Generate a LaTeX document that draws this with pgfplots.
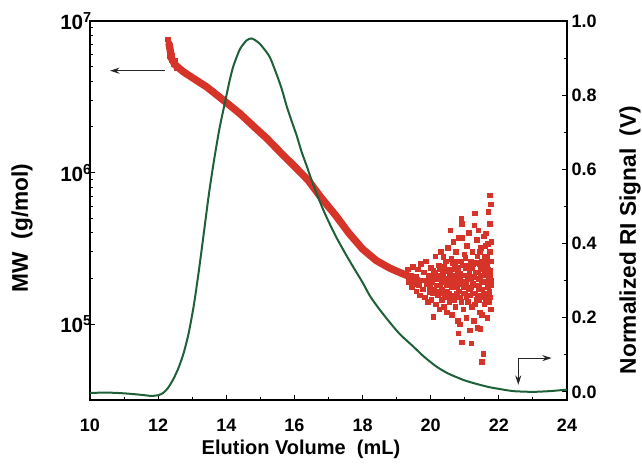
\documentclass[border=0pt]{standalone}
\usepackage{pgfplots}
\pgfplotsset{compat=1.18}
\usepackage{fontspec}
\setmainfont{Liberation Sans}
\usetikzlibrary{arrows.meta}
\definecolor{mwred}{RGB}{214,52,40}
\definecolor{rigreen}{RGB}{30,96,56}

\begin{document}
\begin{tikzpicture}
\pgfplotsset{
  every axis/.append style={
    scale only axis, width=357.75pt, height=284.25pt,
    xmin=10, xmax=24,
    tick align=inside,
    major tick length=4pt, minor tick length=2.5pt,
    axis line style={line width=0.9pt},
    every tick/.style={black, line width=0.8pt},
    tick label style={font=\fontsize{13.5}{13.5}\selectfont\bfseries},
    /pgf/number format/assume math mode=true,
  },
}
% left axis: molecular weight (log)
\begin{axis}[
    name=ax,
    ymode=log, ymin=3.16e4, ymax=1e7,
    ytick={1e5,1e6,1e7},
    yticklabels={10\textsuperscript{5},10\textsuperscript{6},10\textsuperscript{7}},
    yticklabel style={font=\fontsize{15.5}{15.5}\selectfont\bfseries, xshift=5pt},
    xticklabel style={yshift=-10.5pt},
    ytick pos=left, xtick pos=left,
    xtick={10,12,...,24}, minor x tick num=1,
]
% main MW band
\addplot[mwred, line width=5.5pt, line cap=round, line join=round] coordinates {
  (12.32,7.08e6) (12.40,5.62e6) (12.50,5.13e6) (12.74,4.62e6) (13.03,4.19e6)
  (13.42,3.68e6) (13.91,3.01e6) (14.40,2.45e6) (14.80,2.02e6) (15.19,1.68e6)
  (15.60,1.35e6) (16.00,1.10e6) (16.40,8.91e5) (16.80,6.76e5) (17.20,5.25e5)
  (17.60,3.98e5) (18.00,3.13e5) (18.40,2.63e5) (18.80,2.34e5) (19.20,2.14e5)
  (19.60,1.97e5)
};
% scattered MW points
\addplot[only marks, mark=square*, mark size=1.7pt, mwred] coordinates {
  (12.28,7.6e6) (12.30,7.0e6) (12.32,6.4e6) (12.34,5.9e6) (12.36,6.8e6)
  (12.38,5.5e6) (12.42,5.9e6) (12.45,5.2e6) (12.50,5.5e6) (12.55,4.9e6)
  (19.32,2.3e5) (19.36,1.9e5) (19.41,2.1e5) (19.45,1.75e5) (19.48,2.4e5) (19.52,1.85e5)
  (19.56,2.05e5) (19.58,1.65e5) (19.62,2.3e5) (19.65,1.8e5) (19.68,1.55e5) (19.71,2.5e5) (19.74,1.95e5)
  (19.77,1.7e5) (19.80,2.2e5) (19.83,1.5e5) (19.86,2.6e5) (19.88,1.85e5) (19.91,1.4e5) (19.94,2.1e5) (19.96,1.62e5)
  (20.00,2.35e5) (20.02,1.45e5) (20.05,1.9e5) (20.08,1.12e5) (20.08,2.27e5) (20.10,1.7e5) (20.13,2.8e5) (20.15,1.35e5) (20.18,2.0e5) (20.20,1.55e5)
  (20.23,2.45e5) (20.25,1.25e5) (20.28,1.8e5) (20.30,3.0e5) (20.33,1.45e5) (20.35,2.15e5) (20.37,2.78e5) (20.39,1.3e5)
  (20.42,1.95e5) (20.44,2.6e5) (20.47,1.2e5) (20.48,1.65e5) (20.50,3.2e5) (20.52,2.3e5) (20.55,1.4e5) (20.57,4.17e5) (20.58,1.85e5) (20.60,2.7e5)
  (20.62,1.15e5) (20.64,2.1e5) (20.66,3.5e5) (20.68,1.55e5) (20.70,2.45e5) (20.72,1.3e5) (20.74,3.0e5) (20.76,1.75e5) (20.78,2.2e5) (20.79,1.05e5)
  (20.81,8.7e4) (20.83,3.7e5) (20.85,1.5e5) (20.86,1.0e5) (20.88,2.6e5) (20.90,5.0e5) (20.91,4.6e5) (20.91,7.6e4) (20.92,3.7e5) (20.94,1.9e5) (20.96,1.25e5) (20.98,2.9e5) (21.00,1.6e5)
  (21.02,2.35e5) (21.04,1.1e5) (21.06,3.3e5) (21.08,1.4e5) (21.10,2.0e5) (21.12,4.0e5) (21.14,9.1e4) (21.15,1.7e5) (21.17,2.6e5) (21.19,7.5e4) (21.20,1.3e5)
  (21.22,3.0e5) (21.24,1.85e5) (21.26,1.05e5) (21.28,4.5e5) (21.30,5.4e5) (21.31,2.2e5) (21.33,1.45e5) (21.35,3.6e5) (21.37,9.5e4) (21.39,1.7e5) (21.40,4.17e5)
  (21.42,2.5e5) (21.44,1.2e5) (21.45,9.3e4) (21.47,3.2e5) (21.49,1.55e5) (21.50,1.15e5) (21.50,5.65e4) (21.52,2.1e5) (21.54,6.4e4) (21.55,3.8e5) (21.57,1.35e5) (21.58,2.8e5) (21.60,1.9e5)
  (21.62,3.98e5) (21.64,1.6e5) (21.65,2.4e5) (21.66,1.1e5) (21.68,3.4e5) (21.69,5.5e5) (21.70,1.95e5) (21.71,1.4e5) (21.72,3.0e5) (21.73,4.6e5) (21.74,1.5e5) (21.74,7.1e5) (21.75,2.25e5) (21.76,1.25e5) (21.77,6.2e5) (21.78,3.5e5)
  (19.90,1.95e5) (19.97,1.75e5) (20.03,2.05e5) (20.06,1.6e5) (20.12,2.2e5) (20.16,1.8e5) (20.21,2.1e5) (20.24,1.65e5) (20.27,2.3e5) (20.31,1.9e5)
  (20.34,1.6e5) (20.38,2.0e5) (20.41,1.5e5) (20.43,2.25e5) (20.46,1.8e5) (20.51,1.95e5) (20.53,1.6e5) (20.56,2.2e5) (20.61,1.75e5) (20.63,2.55e5)
  (20.67,1.95e5) (20.69,1.45e5) (20.73,2.1e5) (20.77,1.6e5) (20.80,2.35e5) (20.84,1.85e5) (20.87,2.15e5) (20.89,1.4e5) (20.93,2.45e5) (20.97,1.75e5)
  (20.99,2.1e5) (21.03,1.85e5) (21.05,1.5e5) (21.09,2.45e5) (21.11,1.7e5) (21.13,2.15e5) (21.16,1.55e5) (21.18,2.0e5) (21.21,2.4e5) (21.23,1.6e5)
  (21.27,2.05e5) (21.29,1.35e5) (21.32,1.8e5) (21.34,2.55e5) (21.36,1.55e5) (21.38,2.2e5) (21.41,1.8e5) (21.43,1.45e5) (21.46,2.05e5) (21.48,2.6e5)
  (21.51,1.7e5) (21.53,2.35e5) (21.56,1.6e5) (21.59,2.15e5) (21.61,1.45e5) (21.63,2.6e5) (21.67,1.75e5) (21.69,2.3e5) (21.72,1.65e5) (21.73,2.05e5)
  (21.76,1.8e5) (21.78,2.6e5)
  (20.26,2.05e5) (20.32,1.7e5) (20.40,2.4e5) (20.45,1.55e5) (20.54,2.05e5) (20.59,1.5e5) (20.65,2.3e5) (20.71,1.85e5)
  (20.75,2.6e5) (20.82,1.65e5) (20.86,2.0e5) (20.95,1.6e5) (21.01,2.75e5) (21.07,2.05e5) (21.14,2.35e5) (21.19,1.75e5)
  (21.25,2.5e5) (21.30,1.6e5) (21.37,2.8e5) (21.40,2.0e5) (21.45,2.3e5) (21.50,1.9e5) (21.55,2.5e5) (21.58,1.5e5)
  (21.62,2.1e5) (21.66,2.8e5) (21.70,1.55e5) (21.75,3.0e5) (21.78,1.95e5) (21.44,3.0e5) (21.60,3.3e5) (21.70,2.6e5)
};
\end{axis}

% right axis: normalized RI signal
\begin{axis}[
    ymin=-0.022, ymax=1.0,
    axis x line=none, axis y line*=right,
    ytick={0,0.2,...,1.0}, minor y tick num=1,
    yticklabel style={/pgf/number format/.cd, fixed, fixed zerofill, precision=1},
    clip=false,
]
\addplot[rigreen, line width=1.5pt, smooth, tension=0.4] coordinates {
  (10.0,-0.003) (10.5,-0.002) (11.0,-0.004) (11.5,-0.008) (11.8,-0.011) (12.0,-0.009)
  (12.15,-0.003) (12.3,0.012) (12.45,0.035) (12.6,0.065) (12.75,0.105) (12.9,0.16)
  (13.05,0.235) (13.2,0.33) (13.35,0.435) (13.5,0.54) (13.65,0.63) (13.8,0.71)
  (13.96,0.78) (14.1,0.84) (14.21,0.879) (14.4,0.924) (14.6,0.948)
  (14.75,0.953) (14.9,0.945) (14.99,0.938) (15.15,0.92) (15.28,0.902) (15.4,0.875)
  (15.53,0.843) (15.65,0.81) (15.77,0.771) (15.9,0.735) (16.07,0.69) (16.2,0.65)
  (16.36,0.609) (16.5,0.572) (16.65,0.535) (16.85,0.49) (17.05,0.45) (17.24,0.415)
  (17.5,0.372) (17.73,0.336) (18.0,0.295) (18.22,0.258) (18.5,0.222) (18.81,0.186)
  (19.1,0.155) (19.49,0.122) (19.8,0.095) (20.17,0.068) (20.5,0.05) (20.96,0.032)
  (21.32,0.022) (21.7,0.013) (21.94,0.009) (22.42,0.002) (23.0,0.0) (23.5,0.002)
  (24.0,0.006)
};
\draw[-{Stealth[length=7pt,width=4.5pt]}, line width=0.9pt, black!85]
  (axis cs:12.2,0.866) -- (axis cs:10.59,0.866);
\draw[{Stealth[length=7pt,width=4.5pt]}-{Stealth[length=7pt,width=4.5pt]}, line width=0.9pt, black!85]
  (axis cs:22.57,0.019) -- (axis cs:22.57,0.091) -- (axis cs:23.55,0.091);
\end{axis}

\node[font=\fontsize{15}{15}\selectfont\bfseries] at ([shift={(158.25pt,-37pt)}]ax.south west) {Elution Volume\ \ (mL)};
\node[rotate=90, font=\fontsize{17}{17}\selectfont\bfseries] at ([shift={(-51pt,129pt)}]ax.south west) {MW\ \ (g/mol)};
\node[rotate=90, font=\fontsize{17}{17}\selectfont\bfseries] at ([shift={(47.25pt,120pt)}]ax.south east) {Normalized RI Signal\ \ (V)};

\pgfresetboundingbox
\useasboundingbox ([shift={(-67.5pt,-48.75pt)}]ax.south west) rectangle ([shift={(56.25pt,15.75pt)}]ax.north east);
\end{tikzpicture}
\end{document}
